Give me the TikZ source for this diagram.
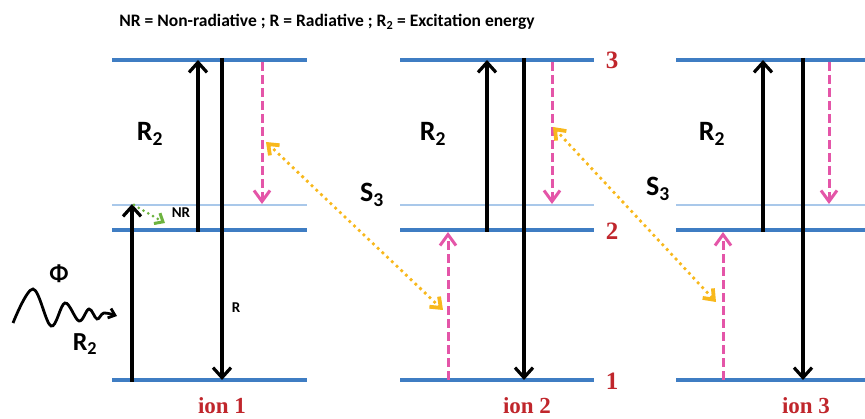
\documentclass[tikz,border=0pt]{standalone}
\usepackage{fontspec}
\setmainfont{Carlito}
\newfontfamily\tnr{Liberation Serif}
\usetikzlibrary{arrows.meta}
\definecolor{lvl}{HTML}{3F7DC3}
\definecolor{thinc}{HTML}{A9C8EA}
\definecolor{pnk}{HTML}{E455A8}
\definecolor{orn}{HTML}{F8B81C}
\definecolor{grn}{HTML}{6DB33F}
\definecolor{dred}{HTML}{C0262C}
\begin{document}
\begin{tikzpicture}[x=1pt,y=-1pt,
  lvline/.style={draw=lvl, line width=4pt},
  thinline/.style={draw=thinc, line width=1.2pt},
  trans/.style={draw=black, line width=3.2pt, -{Straight Barb[length=10pt,width=18pt]}},
  pinkarr/.style={draw=pnk, line width=3pt, dash pattern=on 9pt off 4pt, -{Straight Barb[length=11pt,width=16pt]}},
  orarr/.style={draw=orn, line width=3.8pt, line cap=round, dash pattern=on 0pt off 6.5pt, {Straight Barb[length=9pt,width=14pt,line cap=butt]}-{Straight Barb[length=9pt,width=14pt,line cap=butt]}},
  greenarr/.style={draw=grn, line width=3pt, line cap=round, dash pattern=on 0pt off 5.5pt, -{Straight Barb[length=7pt,width=12pt,line cap=butt]}},
  biglab/.style={font=\fontsize{28}{28}\selectfont\bfseries, inner sep=0pt},
  redlab/.style={font=\fontsize{23}{23}\selectfont\tnr\bfseries, text=dred, inner sep=0pt},
  numlab/.style={font=\fontsize{25}{25}\selectfont\tnr\bfseries, text=dred, inner sep=0pt},
]
\useasboundingbox (0,0) rectangle (865,419);

% title
\node[font=\fontsize{17.5}{18}\selectfont\bfseries, inner sep=0pt] (title) at (327,22)
  {NR = Non-radiative ; R = Radiative ; R\textsubscript{2} = Excitation energy};

% ---------------- levels
\foreach \n/\a/\b in {A/112/307, B/400/594, C/676/865} {
  \draw[lvline] (\a,60) coordinate (\n3l) -- (\b,60) coordinate (\n3r);
  \draw[lvline] (\a,230) coordinate (\n2l) -- (\b,230) coordinate (\n2r);
  \draw[lvline] (\a,380) coordinate (\n1l) -- (\b,380) coordinate (\n1r);
  \draw[thinline] (\a,205) coordinate (\n tl) -- (\b,205) coordinate (\n tr);
}

% ---------------- ion 1
\coordinate (a1) at (132,382);
\coordinate (a2) at (132,204);
\coordinate (b1) at (198,232);
\coordinate (b2) at (198,60);
\coordinate (c1) at (222,58);
\coordinate (c2) at (222,380);
\coordinate (d1) at (262,62);
\coordinate (d2) at (262,204);
\draw[trans] (a1) -- (a2);
\draw[trans] (b1) -- (b2);
\draw[trans] (c1) -- (c2);
\draw[pinkarr] (d1) -- (d2);
\coordinate (g1) at (134,205);
\coordinate (g2) at (165,223);
\draw[greenarr] (g1) -- (g2);
\node[font=\fontsize{15}{15}\selectfont\bfseries, inner sep=0pt] (nr) at (181,213) {NR};
\node[font=\fontsize{15}{15}\selectfont\bfseries, inner sep=0pt] (rlab) at (236,308) {R};
\node[biglab] (r2a) at (150,134) {R\textsubscript{2}};

% photon
\coordinate (w0) at (13,323);
\coordinate (w1) at (117,316);
\draw[line width=2.8pt, -{Straight Barb[length=6pt,width=10pt]}]
  plot[smooth, tension=0.6] coordinates {(w0) (33,289) (51,326) (65,303) (79,321) (89,309) (97,319) (104,313) (w1)};
\node[font=\fontsize{24}{24}\selectfont\bfseries, inner sep=0pt] (phi) at (59,274) {Φ};
\node[biglab, font=\fontsize{26}{26}\selectfont\bfseries] (r2p) at (85,344) {R\textsubscript{2}};

% ---------------- ion 2
\coordinate (e1) at (487,232);
\coordinate (e2) at (487,60);
\coordinate (f1) at (524,58);
\coordinate (f2) at (524,380);
\coordinate (h1) at (552,62);
\coordinate (h2) at (552,204);
\coordinate (i1) at (448,380);
\coordinate (i2) at (448,232);
\draw[trans] (e1) -- (e2);
\draw[trans] (f1) -- (f2);
\draw[pinkarr] (h1) -- (h2);
\draw[pinkarr] (i1) -- (i2);
\node[biglab] (r2b) at (433,134) {R\textsubscript{2}};

% ---------------- ion 3
\coordinate (j1) at (763,232);
\coordinate (j2) at (763,60);
\coordinate (k1) at (803,58);
\coordinate (k2) at (803,380);
\coordinate (l1) at (829,62);
\coordinate (l2) at (829,204);
\coordinate (m1) at (723,380);
\coordinate (m2) at (723,232);
\draw[trans] (j1) -- (j2);
\draw[trans] (k1) -- (k2);
\draw[pinkarr] (l1) -- (l2);
\draw[pinkarr] (m1) -- (m2);
\node[biglab] (r2c) at (712,134) {R\textsubscript{2}};

% ---------------- S3 transfers
\coordinate (s1a) at (266,142);
\coordinate (s1b) at (443,310);
\coordinate (s2a) at (553,127);
\coordinate (s2b) at (716,302);
\draw[orarr] (s1a) -- (s1b);
\draw[orarr] (s2a) -- (s2b);
\node[biglab] (s3a) at (372,195) {S\textsubscript{3}};
\node[biglab] (s3b) at (658,189) {S\textsubscript{3}};

% ---------------- level numbers and ion labels
\node[numlab] (n3) at (612,60) {3};
\node[numlab] (n2) at (612,231) {2};
\node[numlab] (n1) at (612,381) {1};
\node[redlab] (ion1) at (222,406) {ion 1};
\node[redlab] (ion2) at (527,406) {ion 2};
\node[redlab] (ion3) at (806,406) {ion 3};
\end{tikzpicture}
\end{document}
